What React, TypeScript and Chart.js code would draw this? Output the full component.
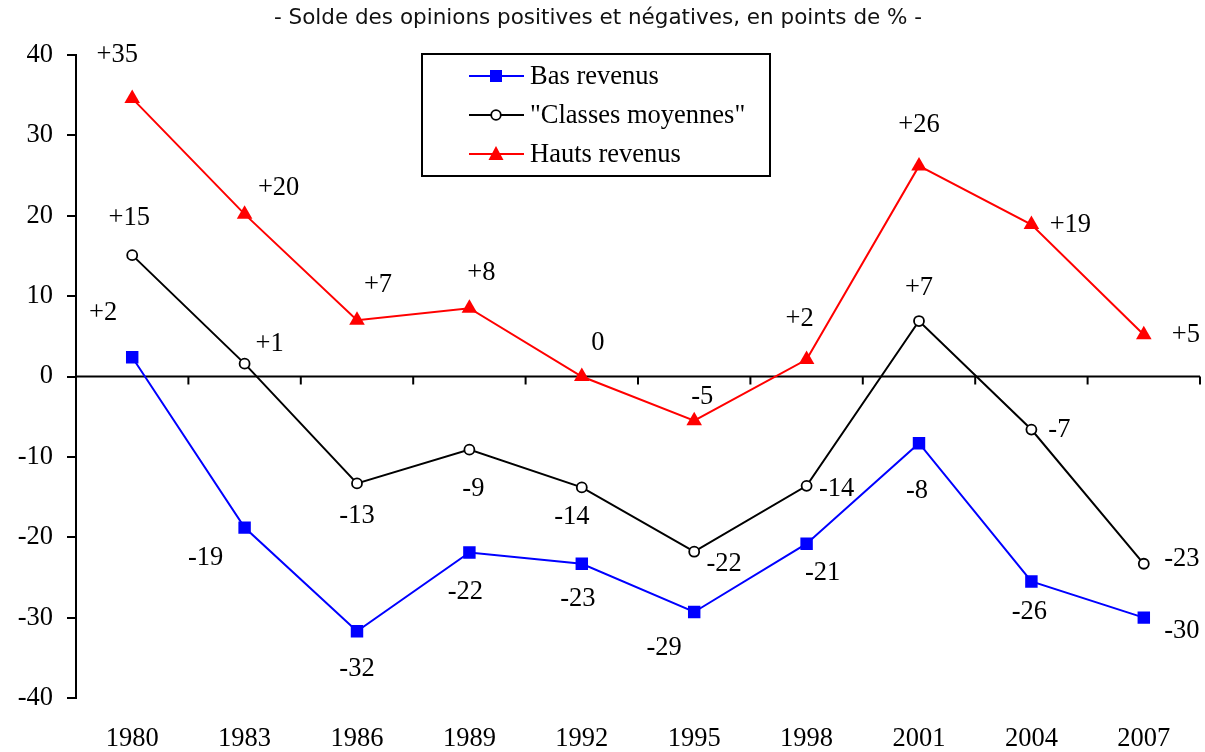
import React, { useEffect, useRef } from 'react';
import { Chart, registerables } from 'chart.js';

Chart.register(...registerables);

const YEARS = ['1980', '1983', '1986', '1989', '1992', '1995', '1998', '2001', '2004', '2007'];
const LOW = [2.4, -18.8, -31.7, -21.9, -23.3, -29.3, -20.8, -8.3, -25.5, -30.0];
const MIDDLE = [15.1, 1.6, -13.3, -9.1, -13.8, -21.8, -13.6, 6.9, -6.6, -23.3];
const HIGH = [34.6, 20.2, 7.0, 8.5, 0, -5.5, 2.1, 26.2, 18.9, 5.2];
const LOW_LABELS = ['+2', '-19', '-32', '-22', '-23', '-29', '-21', '-8', '-26', '-30'];
const MIDDLE_LABELS = ['+15', '+1', '-13', '-9', '-14', '-22', '-14', '+7', '-7', '-23'];
const HIGH_LABELS = ['+35', '+20', '+7', '+8', '0', '-5', '+2', '+26', '+19', '+5'];
const SERIES_NAMES = ['Bas revenus', '"Classes moyennes"', 'Hauts revenus'];
const Y_MIN = -40;
const Y_MAX = 40;
const Y_STEP = 10;
const TITLE = '- Solde des opinions positives et négatives, en points de % -';

// layout: label offsets (dx, dy) relative to each point
const LOW_OFFSETS = [[-29, -44], [-39, 30], [0, 38], [-4, 40], [-4, 35], [-30, 36], [16, 29], [-2, 48], [-2, 31], [38, 13]];
const MIDDLE_OFFSETS = [[-3, -37], [25, -20], [0, 33], [4, 39], [-10, 30], [30, 12], [30, 3], [0, -33], [28, 0], [38, -5]];
const HIGH_OFFSETS = [[-15, -43], [34, -26], [21, -35], [12, -35], [16, -33], [8, -24], [-7, -41], [0, -41], [39, 0], [42, 0]];

const SERIF = '"Liberation Serif", "Times New Roman", serif';
const FONT_SIZE = 26.5;
const COLORS = ['#0000ff', '#000000', '#ff0000'];

function drawMarker(ctx: CanvasRenderingContext2D, kind: number, x: number, y: number) {
  ctx.save();
  if (kind === 0) {
    ctx.fillStyle = '#0000ff';
    ctx.fillRect(x - 6, y - 6, 12, 12);
  } else if (kind === 1) {
    ctx.beginPath();
    ctx.arc(x, y, 4.8, 0, Math.PI * 2);
    ctx.fillStyle = '#ffffff';
    ctx.fill();
    ctx.lineWidth = 1.8;
    ctx.strokeStyle = '#000000';
    ctx.stroke();
  } else {
    ctx.beginPath();
    ctx.moveTo(x, y - 8);
    ctx.lineTo(x + 7.5, y + 6);
    ctx.lineTo(x - 7.5, y + 6);
    ctx.closePath();
    ctx.fillStyle = '#ff0000';
    ctx.fill();
  }
  ctx.restore();
}

const overlayPlugin = {
  id: 'overlay',
  beforeDatasetsDraw(chart: any) {
    const { ctx, chartArea, scales } = chart;
    const y0 = scales.y.getPixelForValue(0);
    ctx.save();
    ctx.strokeStyle = '#000';
    ctx.lineWidth = 2;
    ctx.beginPath();
    ctx.moveTo(chartArea.left, y0);
    ctx.lineTo(chartArea.right, y0);
    ctx.stroke();
    const n = YEARS.length;
    const w = (chartArea.right - chartArea.left) / n;
    ctx.lineWidth = 2;
    for (let i = 1; i <= n; i++) {
      const x = chartArea.left + i * w;
      ctx.beginPath();
      ctx.moveTo(x, y0);
      ctx.lineTo(x, y0 + 8);
      ctx.stroke();
    }
    ctx.restore();
  },
  afterDraw(chart: any) {
    const { ctx } = chart;
    ctx.save();
    // title
    ctx.fillStyle = '#111';
    ctx.font = '21.5px "DejaVu Sans", Verdana, sans-serif';
    ctx.textAlign = 'center';
    ctx.textBaseline = 'middle';
    ctx.fillText(TITLE, 598, 18);

    // data labels
    const labelSets = [LOW_LABELS, MIDDLE_LABELS, HIGH_LABELS];
    const offsetSets = [LOW_OFFSETS, MIDDLE_OFFSETS, HIGH_OFFSETS];
    ctx.fillStyle = '#000';
    ctx.font = FONT_SIZE + 'px ' + SERIF;
    for (let d = 0; d < 3; d++) {
      const meta = chart.getDatasetMeta(d);
      meta.data.forEach((pt: any, i: number) => {
        const [dx, dy] = offsetSets[d][i];
        ctx.fillText(labelSets[d][i], pt.x + dx, pt.y + dy);
      });
    }

    // legend
    ctx.strokeStyle = '#000';
    ctx.lineWidth = 2;
    ctx.strokeRect(422, 54, 348, 122);
    const rows = [76, 115, 154];
    ctx.textAlign = 'left';
    for (let d = 0; d < 3; d++) {
      const y = rows[d];
      ctx.strokeStyle = COLORS[d];
      ctx.lineWidth = 2;
      ctx.beginPath();
      ctx.moveTo(469, y);
      ctx.lineTo(524, y);
      ctx.stroke();
      drawMarker(ctx, d, 496, y);
      ctx.fillStyle = '#000';
      ctx.fillText(SERIES_NAMES[d], 530, y + 1);
    }
    ctx.restore();
  },
};

export default function App() {
  const ref = useRef<HTMLCanvasElement | null>(null);
  useEffect(() => {
    if (!ref.current) return;
    const chart = new Chart(ref.current, {
      type: 'line',
      data: {
        labels: YEARS,
        datasets: [
          {
            label: SERIES_NAMES[0],
            data: LOW,
            borderColor: '#0000ff',
            backgroundColor: '#0000ff',
            borderWidth: 2,
            pointStyle: 'rect',
            pointRadius: 8.8,
            pointBorderWidth: 0,
            tension: 0,
          },
          {
            label: SERIES_NAMES[1],
            data: MIDDLE,
            borderColor: '#000000',
            backgroundColor: '#ffffff',
            borderWidth: 2,
            pointStyle: 'circle',
            pointRadius: 5,
            pointBorderWidth: 1.8,
            pointBorderColor: '#000000',
            pointBackgroundColor: '#ffffff',
            tension: 0,
          },
          {
            label: SERIES_NAMES[2],
            data: HIGH,
            borderColor: '#ff0000',
            backgroundColor: '#ff0000',
            borderWidth: 2,
            pointStyle: 'triangle',
            pointRadius: 9,
            pointBorderWidth: 0,
            tension: 0,
          },
        ],
      },
      options: {
        animation: false,
        responsive: false,
        maintainAspectRatio: false,
        layout: { autoPadding: false, padding: { left: 0, right: 5, top: 55, bottom: 0 } },
        plugins: {
          legend: { display: false },
          title: { display: false },
          tooltip: { enabled: false },
        },
        scales: {
          x: {
            type: 'category',
            offset: true,
            grid: { display: false, drawTicks: false },
            border: { display: false },
            ticks: {
              color: '#000',
              font: { family: SERIF, size: FONT_SIZE },
              padding: 25,
              maxRotation: 0,
              autoSkip: false,
            },
            afterFit: (s: any) => {
              s.height = 54;
              s.paddingLeft = 0;
              s.paddingRight = 0;
            },
          },
          y: {
            min: Y_MIN,
            max: Y_MAX,
            ticks: {
              stepSize: Y_STEP,
              color: '#000',
              font: { family: SERIF, size: FONT_SIZE },
              padding: 14,
            },
            grid: {
              drawOnChartArea: false,
              drawTicks: true,
              tickLength: 9,
              color: '#000',
              lineWidth: 2,
            },
            border: { display: true, color: '#000', width: 2 },
            afterFit: (s: any) => {
              s.width = 76;
            },
          },
        },
      },
      plugins: [overlayPlugin],
    });
    return () => chart.destroy();
  }, []);
  return (
    <div style={{ position: 'fixed', left: 0, top: 0, width: 1205, height: 752, background: '#fff' }}>
      <canvas ref={ref} width={1205} height={752} style={{ width: 1205, height: 752 }} />
    </div>
  );
}
